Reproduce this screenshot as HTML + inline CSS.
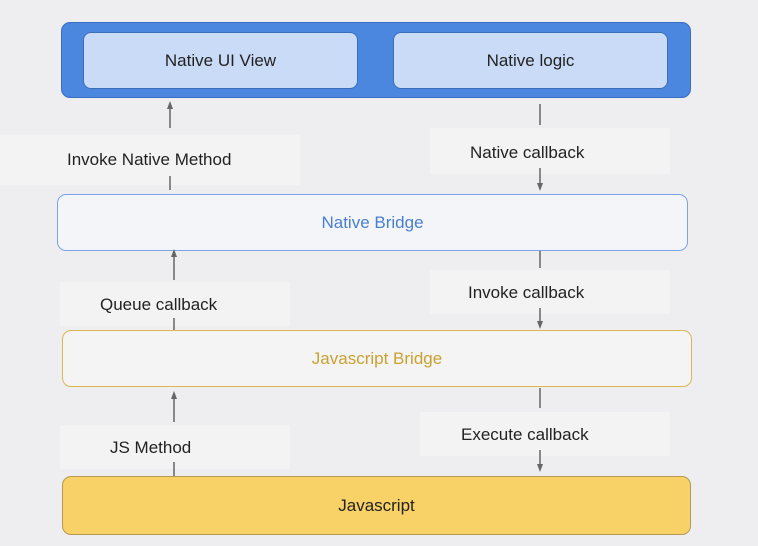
<!DOCTYPE html>
<html><head><style>
body{margin:0;width:758px;height:546px;background:#eeeef0;font-family:"Liberation Sans",sans-serif;position:relative;overflow:hidden}
.a{position:absolute}
.t{position:absolute;font-size:17px;color:#222;white-space:nowrap}
.band{position:absolute;background:#f3f3f4}
</style></head><body>
<div class="band" style="left:0;top:135px;width:300px;height:50px"></div>
<div class="band" style="left:430px;top:128px;width:240px;height:46px"></div>
<div class="band" style="left:60px;top:282px;width:230px;height:44px"></div>
<div class="band" style="left:430px;top:270px;width:240px;height:44px"></div>
<div class="band" style="left:60px;top:425px;width:230px;height:44px"></div>
<div class="band" style="left:420px;top:412px;width:250px;height:44px"></div>

<div class="a" style="left:61px;top:22px;width:628px;height:74px;background:#4b86df;border:1px solid #3a6fc0;border-radius:9px"></div>
<div class="a" style="left:83px;top:32px;width:273px;height:55px;background:#c9dbf6;border:1px solid #3c6fb8;border-radius:8px;display:flex;align-items:center;justify-content:center;font-size:17px;color:#222">Native UI View</div>
<div class="a" style="left:393px;top:32px;width:273px;height:55px;background:#c9dbf6;border:1px solid #3c6fb8;border-radius:8px;display:flex;align-items:center;justify-content:center;font-size:17px;color:#222">Native logic</div>

<div class="a" style="left:57px;top:194px;width:629px;height:55px;background:#f4f5f8;border:1.5px solid #79a4e6;border-radius:9px;display:flex;align-items:center;justify-content:center;font-size:17px;color:#4a7fd0">Native Bridge</div>
<div class="a" style="left:62px;top:330px;width:628px;height:55px;background:#f4f4f4;border:1.5px solid #dcb751;border-radius:9px;display:flex;align-items:center;justify-content:center;font-size:17px;color:#c9a133">Javascript Bridge</div>
<div class="a" style="left:62px;top:476px;width:627px;height:57px;background:#f8d266;border:1.5px solid #b49a55;border-radius:9px;display:flex;align-items:center;justify-content:center;font-size:17px;color:#222">Javascript</div>

<svg class="a" style="left:0;top:0" width="758" height="546">
<g stroke="#666" stroke-width="1.5" fill="#666">
<line x1="170" y1="106" x2="170" y2="128"/><polygon points="167,109 173,109 170,101" stroke="none"/>
<line x1="170" y1="176" x2="170" y2="190"/>
<line x1="540" y1="104" x2="540" y2="125"/>
<line x1="540" y1="168" x2="540" y2="186"/><polygon points="537,183 543,183 540,191" stroke="none"/>
<line x1="174" y1="254" x2="174" y2="280"/><polygon points="171,257 177,257 174,249" stroke="none"/>
<line x1="174" y1="318" x2="174" y2="330"/>
<line x1="540" y1="251" x2="540" y2="268"/>
<line x1="540" y1="308" x2="540" y2="324"/><polygon points="537,321 543,321 540,329" stroke="none"/>
<line x1="174" y1="396" x2="174" y2="422"/><polygon points="171,399 177,399 174,391" stroke="none"/>
<line x1="174" y1="462" x2="174" y2="476"/>
<line x1="540" y1="388" x2="540" y2="408"/>
<line x1="540" y1="450" x2="540" y2="467"/><polygon points="537,464 543,464 540,472" stroke="none"/>
</g></svg>

<div class="t" style="left:67px;top:150px">Invoke Native Method</div>
<div class="t" style="left:470px;top:143px">Native callback</div>
<div class="t" style="left:100px;top:295px">Queue callback</div>
<div class="t" style="left:468px;top:283px">Invoke callback</div>
<div class="t" style="left:110px;top:438px">JS Method</div>
<div class="t" style="left:461px;top:425px">Execute callback</div>
</body></html>
